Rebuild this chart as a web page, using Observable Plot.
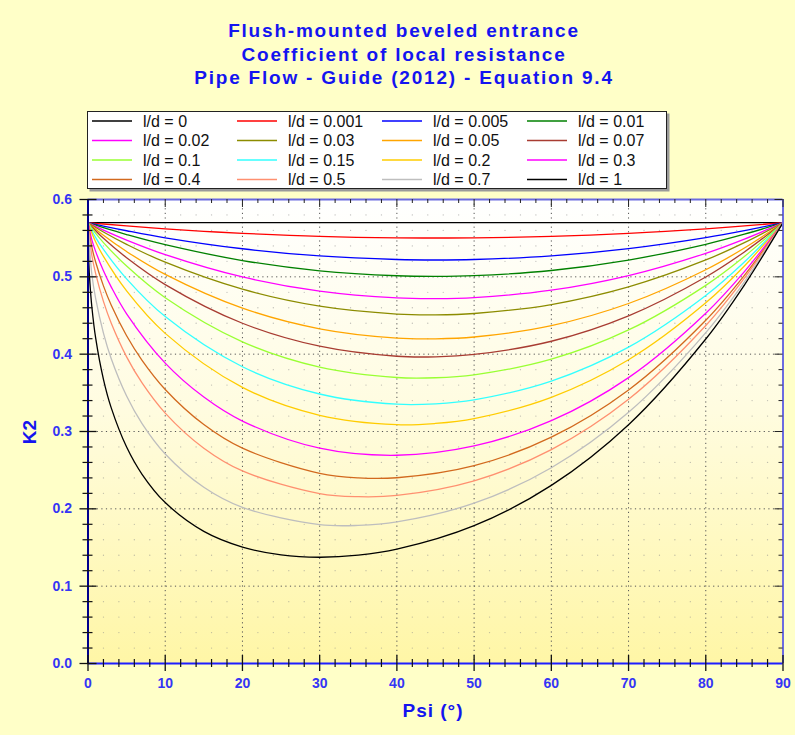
<!DOCTYPE html>
<html>
<head>
<meta charset="utf-8">
<script src="https://cdn.jsdelivr.net/npm/d3@7"></script>
<script src="https://cdn.jsdelivr.net/npm/@observablehq/plot@0.6"></script>
<style>
  html, body { margin: 0; padding: 0; background: #FFFFC8; }
  #chart { width: 795px; height: 735px; }
  #chart svg { display: block; }
</style>
</head>
<body>
<div id="chart"></div>
<script>
// ---------- Data ----------
const ratios = ["0", "0.001", "0.005", "0.01", "0.02", "0.03", "0.05", "0.07",
                "0.1", "0.15", "0.2", "0.3", "0.4", "0.5", "0.7", "1"];
const colors = ["#000000", "#FF0000", "#0000FF", "#008000", "#FF00FF", "#8C8C00", "#FFA500", "#A83C32",
                "#99FF33", "#33FFFF", "#FFCC00", "#FF00FF", "#D2691E", "#FF9070", "#BEBEBE", "#000000"];

const psi_00 = [0, 90];
const k_00 = [0.57, 0.57];

const psi_a = [0, 2, 5, 10, 15, 20, 30, 40, 45, 50, 60, 70, 80, 85, 90];
const k_0001 = [0.57, 0.5683, 0.5658, 0.5621, 0.5589, 0.5563, 0.5524, 0.5504, 0.5502, 0.5504, 0.5524, 0.5563, 0.5621, 0.5658, 0.57];

const psi_b = [0, 2, 5, 10, 20, 30, 40, 45, 50, 60, 70, 80, 85, 90];
const k_0005 = [0.57, 0.5656, 0.5596, 0.5505, 0.5363, 0.5270, 0.5224, 0.5218, 0.5224, 0.5271, 0.5365, 0.5507, 0.5597, 0.57];
const k_001  = [0.57, 0.5636, 0.5547, 0.5416, 0.5211, 0.5078, 0.5014, 0.5006, 0.5015, 0.5082, 0.5217, 0.5421, 0.5551, 0.57];
const k_002  = [0.57, 0.5605, 0.5476, 0.5288, 0.4999, 0.4815, 0.4727, 0.4718, 0.4731, 0.4827, 0.5016, 0.5304, 0.5488, 0.57];
const k_003  = [0.57, 0.5580, 0.5420, 0.5189, 0.4840, 0.4621, 0.4519, 0.4509, 0.4526, 0.4642, 0.4870, 0.5218, 0.5442, 0.57];
const k_005  = [0.57, 0.5537, 0.5327, 0.5031, 0.4595, 0.4328, 0.4208, 0.4199, 0.4222, 0.4369, 0.4655, 0.5092, 0.5373, 0.57];
const k_007  = [0.57, 0.5498, 0.5247, 0.4900, 0.4400, 0.4103, 0.3973, 0.3966, 0.3996, 0.4167, 0.4496, 0.4998, 0.5322, 0.57];

const psi_c = [0, 1, 2, 5, 10, 20, 30, 40, 45, 50, 60, 70, 80, 85, 90];
const k_01  = [0.57, 0.5561, 0.5443, 0.5139, 0.4730, 0.4160, 0.3833, 0.3698, 0.3695, 0.3733, 0.3935, 0.4313, 0.4890, 0.5263, 0.57];
const k_015 = [0.57, 0.5507, 0.5354, 0.4974, 0.4486, 0.3837, 0.3485, 0.3353, 0.3358, 0.3410, 0.3652, 0.4091, 0.4759, 0.5192, 0.57];
const k_02  = [0.57, 0.5450, 0.5264, 0.4818, 0.4269, 0.3571, 0.3210, 0.3088, 0.3104, 0.3167, 0.3442, 0.3928, 0.4664, 0.5140, 0.57];

const psi_d = [0, 0.5, 1, 2, 3, 5, 10, 15, 20, 30, 40, 50, 60, 70, 80, 85, 90];
const k_03  = [0.57, 0.5478, 0.5326, 0.5078, 0.4870, 0.4522, 0.3884, 0.3445, 0.3135, 0.2784, 0.2693, 0.2813, 0.3140, 0.3697, 0.4530, 0.5068, 0.57];

const psi_e = [0, 0.5, 1, 2, 3, 5, 7, 10, 15, 20, 30, 35, 40, 50, 60, 70, 80, 85, 90];
const k_04  = [0.57, 0.5383, 0.5188, 0.4883, 0.4636, 0.4238, 0.3921, 0.3544, 0.3090, 0.2784, 0.2459, 0.2400, 0.2402, 0.2558, 0.2927, 0.3537, 0.4438, 0.5019, 0.57];
const k_05  = [0.57, 0.5276, 0.5039, 0.4682, 0.4402, 0.3965, 0.3628, 0.3238, 0.2784, 0.2490, 0.2197, 0.2157, 0.2173, 0.2362, 0.2766, 0.3417, 0.4371, 0.4984, 0.57];
const k_07  = [0.57, 0.5030, 0.4715, 0.4273, 0.3945, 0.3459, 0.3102, 0.2709, 0.2279, 0.2019, 0.1796, 0.1786, 0.1831, 0.2073, 0.2532, 0.3248, 0.4279, 0.4936, 0.57];

const psi_f = [0, 0.1, 0.25, 0.5, 1, 2, 3, 5, 7, 10, 15, 20, 25, 30, 35, 40, 50, 60, 70, 80, 85, 90];
const k_1   = [0.57, 0.5195, 0.4915, 0.4610, 0.4203, 0.3675, 0.3309, 0.2799, 0.2447, 0.2081, 0.1709, 0.1506, 0.1404, 0.1374, 0.1401, 0.1478, 0.1782, 0.2303, 0.3088, 0.4196, 0.4894, 0.57];

const seriesPsi = [psi_00, psi_a, psi_b, psi_b, psi_b, psi_b, psi_b, psi_b, psi_c, psi_c, psi_c, psi_d, psi_e, psi_e, psi_e, psi_f];
const seriesK   = [k_00, k_0001, k_0005, k_001, k_002, k_003, k_005, k_007, k_01, k_015, k_02, k_03, k_04, k_05, k_07, k_1];

// ---------- Axes ticks ----------
const xMajor = [0, 10, 20, 30, 40, 50, 60, 70, 80, 90];
const xMajorLabels = ["0", "10", "20", "30", "40", "50", "60", "70", "80", "90"];
const xMinor = [2, 4, 6, 8, 12, 14, 16, 18, 22, 24, 26, 28, 32, 34, 36, 38, 42, 44, 46, 48,
                52, 54, 56, 58, 62, 64, 66, 68, 72, 74, 76, 78, 82, 84, 86, 88];
const yMajor = [0, 0.1, 0.2, 0.3, 0.4, 0.5, 0.6];
const yMajorLabels = ["0.0", "0.1", "0.2", "0.3", "0.4", "0.5", "0.6"];
const yMinor = [0.02, 0.04, 0.06, 0.08, 0.12, 0.14, 0.16, 0.18, 0.22, 0.24, 0.26, 0.28,
                0.32, 0.34, 0.36, 0.38, 0.42, 0.44, 0.46, 0.48, 0.52, 0.54, 0.56, 0.58];

const titleLines = ["Flush-mounted beveled entrance", "Coefficient of local resistance", "Pipe Flow - Guide (2012) - Equation 9.4"];
const xLabel = "Psi (°)";
const yLabel = "K2";

// ---------- Tables built from the arrays ----------
const rows = ratios.flatMap((r, i) => seriesPsi[i].map((p, j) => ({ratio: r, psi: p, K: seriesK[i][j]})));
const lattice = xMinor.flatMap(x => yMinor.map(y => ({x, y})));
const xTicksT = xMajor.map((v, i) => ({v, label: xMajorLabels[i]}));
const yTicksT = yMajor.map((v, i) => ({v, label: yMajorLabels[i]}));

// ---------- Layout ----------
const W = 795, H = 735;
const mL = 87.5, mR = 12.5, mT = 199, mB = 72;
const fw = W - mL - mR, fh = H - mT - mB;
const font = "'Liberation Sans', Arial, Helvetica, sans-serif";
const labelBlue = "#3535F5";

const plot = Plot.plot({
  width: W, height: H,
  marginLeft: mL, marginRight: mR, marginTop: mT, marginBottom: mB,
  style: {background: "transparent", fontFamily: font, overflow: "visible"},
  x: {domain: [0, 90], axis: null},
  y: {domain: [0, 0.6], axis: null},
  color: {domain: ratios, range: colors},
  marks: [
    Plot.frame({fill: "url(#bgGrad)", stroke: null}),
    Plot.dot(lattice, {x: "x", y: "y", r: 0.65, fill: "#8a8a8a", fillOpacity: 0.55, stroke: null}),
    Plot.ruleX(xMajor.slice(1, -1), {stroke: "#555", strokeWidth: 1, strokeDasharray: "1.2,3.4"}),
    Plot.ruleY(yMajor.slice(1, -1), {stroke: "#555", strokeWidth: 1, strokeDasharray: "1.2,3.4"}),
    Plot.line(rows, {x: "psi", y: "K", z: "ratio", stroke: "ratio", strokeWidth: 1.3, curve: "catmull-rom"}),
    // frame top & right
    Plot.ruleY([0.6], {stroke: "#6C6CE0", strokeWidth: 2}),
    Plot.ruleX([90], {stroke: "#6C6CE0", strokeWidth: 2}),
    // inward ticks on top and right
    Plot.ruleX(xMajor, {stroke: "#222", insetBottom: fh - 8}),
    Plot.ruleX(xMinor, {stroke: "#222", insetBottom: fh - 4}),
    Plot.ruleY(yMajor, {stroke: "#222", insetLeft: fw - 8}),
    Plot.ruleY(yMinor, {stroke: "#222", insetLeft: fw - 4}),
    // bottom & left axes
    Plot.ruleY([0], {stroke: "#1E1EFF", strokeWidth: 2}),
    Plot.ruleX([0], {stroke: "#00008C", strokeWidth: 2}),
    Plot.ruleX(xMajor, {stroke: "#111", strokeWidth: 1.3, insetTop: fh - 8, insetBottom: -8}),
    Plot.ruleX(xMinor, {stroke: "#111", strokeWidth: 1.2, insetTop: fh - 4, insetBottom: -4}),
    Plot.ruleY(yMajor, {stroke: "#111", strokeWidth: 1.3, insetRight: fw - 9, insetLeft: -8}),
    Plot.ruleY(yMinor, {stroke: "#111", strokeWidth: 1.2, insetRight: fw - 5, insetLeft: -5}),
    // tick labels
    Plot.text(xTicksT, {x: "v", y: 0, text: "label", dy: 20, fill: labelBlue, fontSize: 14, fontWeight: "bold", textAnchor: "middle"}),
    Plot.text(yTicksT, {x: 0, y: "v", text: "label", dx: -16, fill: labelBlue, fontSize: 14, fontWeight: "bold", textAnchor: "end"})
  ]
});

document.getElementById("chart").appendChild(plot);

const svg = d3.select(plot);
svg.insert("defs", ":first-child").html(
  '<linearGradient id="bgGrad" x1="0" y1="0" x2="0" y2="1">' +
  '<stop offset="0" stop-color="#FFFFFF"/>' +
  '<stop offset="0.45" stop-color="#FFFCE0"/>' +
  '<stop offset="1" stop-color="#FFF6A6"/>' +
  '</linearGradient>');

// Titles
const tg = svg.append("g").attr("font-family", font).attr("font-weight", "bold")
  .attr("fill", "#1414F0").attr("text-anchor", "middle");
titleLines.forEach((t, i) => {
  tg.append("text").attr("x", 404).attr("y", 37 + i * 23.5)
    .attr("font-size", 19).attr("letter-spacing", 1.8).text(t);
});

// Axis titles
svg.append("text").attr("x", 433).attr("y", 717).attr("text-anchor", "middle")
  .attr("font-family", font).attr("font-weight", "bold").attr("font-size", 19)
  .attr("letter-spacing", 1).attr("fill", "#1414F0").text(xLabel);
svg.append("text").attr("transform", "translate(36,432) rotate(-90)").attr("text-anchor", "middle")
  .attr("font-family", font).attr("font-weight", "bold").attr("font-size", 19)
  .attr("fill", "#1414F0").text(yLabel);

// Legend
const lg = svg.append("g").attr("font-family", font).attr("text-anchor", "start");
lg.append("rect").attr("x", 89.5).attr("y", 113.5).attr("width", 580).attr("height", 78).attr("fill", "#9a9a9a");
lg.append("rect").attr("x", 87.5).attr("y", 111.5).attr("width", 579).attr("height", 77)
  .attr("fill", "#FFFFFF").attr("stroke", "#222").attr("stroke-width", 1);
ratios.forEach((r, i) => {
  const col = i % 4, row = Math.floor(i / 4);
  const x0 = 92 + col * 145, y0 = 121 + row * 19.5;
  lg.append("line").attr("x1", x0).attr("x2", x0 + 40).attr("y1", y0).attr("y2", y0)
    .attr("stroke", colors[i]).attr("stroke-width", 1.5);
  lg.append("text").attr("x", x0 + 51).attr("y", y0).attr("dy", "0.36em")
    .attr("text-anchor", "start").attr("font-size", 16).attr("fill", "#111").text("l/d = " + r);
});
</script>
</body>
</html>
